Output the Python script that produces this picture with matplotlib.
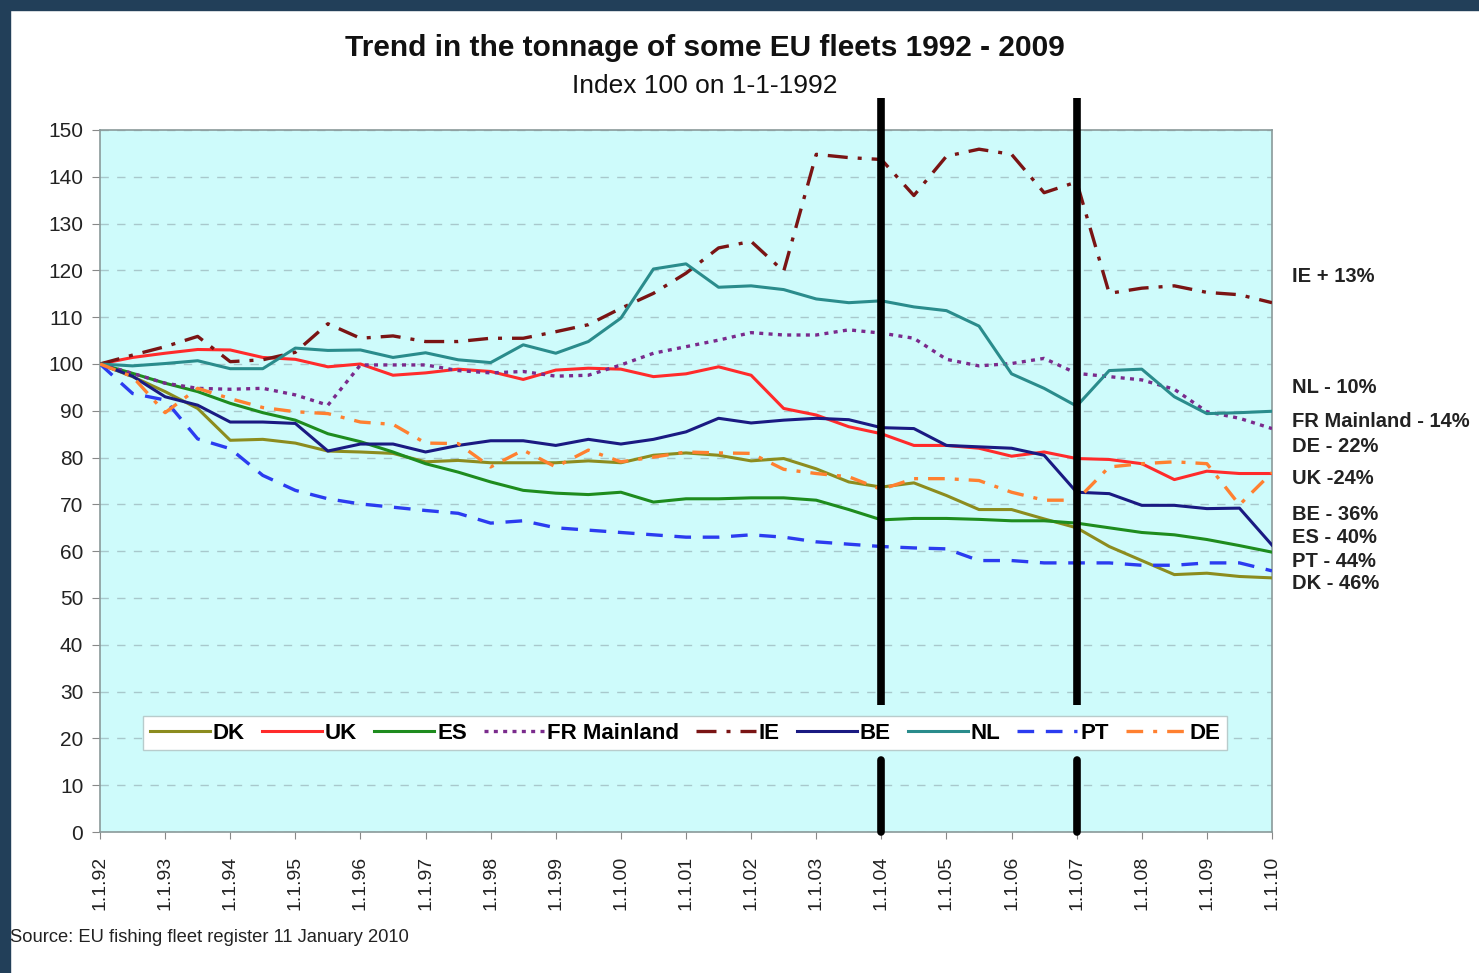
import numpy as np
import matplotlib
matplotlib.use("Agg")
import matplotlib.pyplot as plt
from matplotlib.patches import Rectangle

plt.rcParams['font.family'] = ['Liberation Sans', 'DejaVu Sans']

## half-year steps from 1.1.92 to 1.1.10
years = [1992 + 0.5 * i for i in range(37)]

DK = [100, 97.3, 94.1, 90.5, 83.7, 83.9, 83.1, 81.4, 81.2, 80.9, 79.1, 79.4, 78.9, 78.9, 78.9, 79.3,
      78.9, 80.5, 81.0, 80.5, 79.3, 79.8, 77.6, 74.8, 73.7, 74.6, 71.9, 68.9, 68.9, 66.9, 65.0, 61.0,
      58.0, 55.0, 55.3, 54.6, 54.3]
UK = [100, 101.4, 102.3, 103.1, 103.0, 101.4, 101.0, 99.4, 100.0, 97.6, 98.1, 98.9, 98.4, 96.7, 98.7,
      99.1, 98.9, 97.3, 97.9, 99.4, 97.6, 90.5, 89.1, 86.6, 85.1, 82.6, 82.6, 82.0, 80.3, 81.2, 79.8,
      79.6, 78.7, 75.3, 77.1, 76.6, 76.6]
ES = [100, 98.0, 95.9, 94.1, 91.6, 89.6, 88.0, 85.1, 83.4, 81.2, 78.7, 76.9, 74.8, 73.0, 72.4, 72.1,
      72.6, 70.5, 71.2, 71.2, 71.4, 71.4, 70.9, 68.9, 66.7, 67.0, 67.0, 66.8, 66.5, 66.5, 66.0, 65.0,
      64.0, 63.5, 62.5, 61.2, 59.8]
FR = [100, 98.0, 95.9, 94.8, 94.6, 94.8, 93.4, 91.2, 99.8, 99.8, 99.8, 98.6, 98.1, 98.4, 97.4, 97.6,
      99.8, 102.3, 103.7, 105.1, 106.7, 106.2, 106.2, 107.3, 106.6, 105.5, 101.0, 99.6, 100.1, 101.2,
      98.0, 97.3, 96.6, 94.6, 89.8, 88.4, 86.2]
IE = [100, 101.9, 103.7, 105.9, 100.5, 100.9, 102.5, 108.6, 105.5, 106.0, 104.8, 104.8, 105.5, 105.5,
      106.9, 108.4, 111.9, 115.1, 119.4, 124.8, 126.2, 119.8, 144.8, 144.1, 143.7, 136.0, 144.4, 145.9,
      144.8, 136.6, 138.9, 115.1, 116.2, 116.7, 115.3, 114.8, 113.1]
BE = [100, 97.4, 93.0, 91.2, 87.6, 87.6, 87.3, 81.4, 82.9, 82.9, 81.2, 82.6, 83.6, 83.6, 82.6, 83.9,
      82.9, 83.9, 85.5, 88.4, 87.4, 88.0, 88.4, 88.1, 86.4, 86.2, 82.6, 82.3, 82.0, 80.5, 72.6, 72.3,
      69.8, 69.8, 69.1, 69.2, 61.3]
NL = [100, 99.6, 100.1, 100.7, 99.0, 99.0, 103.4, 102.9, 103.0, 101.4, 102.4, 100.9, 100.3, 104.1,
      102.3, 104.8, 109.8, 120.3, 121.4, 116.4, 116.7, 115.9, 113.9, 113.1, 113.5, 112.2, 111.4, 108.1,
      97.9, 94.8, 91.0, 98.6, 98.9, 93.0, 89.4, 89.6, 89.9]
PT = [100, 93.7, 92.3, 84.0, 81.9, 76.2, 73.0, 71.2, 70.1, 69.4, 68.7, 68.1, 66.0, 66.5, 65.0, 64.5,
      64.0, 63.5, 63.0, 63.0, 63.5, 63.0, 62.0, 61.5, 61.0, 60.7, 60.5, 58.0, 58.0, 57.5, 57.5, 57.5,
      57.0, 57.0, 57.5, 57.5, 55.8]
DE = [100, 97.3, 89.6, 94.8, 92.6, 90.7, 89.8, 89.4, 87.6, 87.1, 83.1, 83.0, 78.0, 81.6, 78.0, 81.6,
      79.1, 80.1, 81.2, 81.0, 80.9, 77.5, 76.6, 75.9, 73.2, 75.5, 75.5, 75.1, 72.6, 70.9, 70.9, 78.0,
      78.7, 79.1, 78.7, 69.9, 76.8]

series_names = ["DK", "UK", "ES", "FR Mainland", "IE", "BE", "NL", "PT", "DE"]
series_vals = [DK, UK, ES, FR, IE, BE, NL, PT, DE]
colors = ["#8c8c1e", "#ff2b2b", "#1e8c1e", "#7a2a8c", "#7a1414", "#1a1a82", "#2a8c8c", "#2b3cf0", "#ff8030"]
dashes = [None, None, None, (1.2, 1.6), (6, 3, 1.2, 3), None, None, (5, 3.5), (5, 3, 1.2, 3)]

end_labels = ["IE + 13%", "NL - 10%", "FR Mainland - 14%", "DE - 22%", "UK -24%",
              "BE - 36%", "ES - 40%", "PT - 44%", "DK - 46%"]
end_label_y = [118.6, 94.9, 87.8, 82.3, 75.6, 67.9, 63.0, 57.7, 53.2]

marker_years = [2004, 2007]
tick_years = list(range(1992, 2011))
tick_labels = ["1.1.%02d" % (y % 100) for y in tick_years]

fig = plt.figure(figsize=[14.79, 9.73], dpi=100)
fig.patch.set_facecolor("white")
# dark frame top and left
fig.add_artist(Rectangle((0, 1 - 10 / 973), 1, 10 / 973, transform=fig.transFigure, color="#223f59", zorder=0))
fig.add_artist(Rectangle((0, 0), 10 / 1479, 1, transform=fig.transFigure, color="#223f59", zorder=0))

ax = fig.add_axes([100 / 1479, 1 - 832 / 973, 1172 / 1479, 702 / 973])
ax.set_facecolor("#cefbfb")

for name, vals, c, d in zip(series_names, series_vals, colors, dashes):
    if d is None:
        ax.plot(years, vals, color=c, lw=2.2, label=name, zorder=3)
    else:
        ax.plot(years, vals, color=c, lw=2.4, dashes=d, label=name, zorder=3)

ax.set_xlim(1992, 2010)
ax.set_ylim(0, 150)
ax.set_yticks(range(0, 151, 10))
ax.set_xticks(tick_years)
ax.set_xticklabels(tick_labels, rotation=90, fontsize=14, color="#222222")
ax.tick_params(axis="y", labelsize=15, colors="#222222", length=6, color="#888888", pad=6)
ax.tick_params(axis="x", length=5, color="#888888", pad=12)
ax.grid(axis="y", linestyle=(0, (6, 6)), color="#a8c8cc", lw=1)
for sp in ax.spines.values():
    sp.set_color("#8a9a9a")
    sp.set_linewidth(1.2)

# thick vertical lines (gap where the legend sits)
for yr in marker_years:
    ax.plot([yr, yr], [0, 15.3], color="black", lw=5.5, solid_capstyle="round", clip_on=False, zorder=4)
    ax.plot([yr, yr], [27.1, 156.8], color="black", lw=5.5, solid_capstyle="butt", clip_on=False, zorder=4)

leg = ax.legend(loc="center", bbox_to_anchor=(0.499, 0.141), ncol=9, frameon=True, fancybox=False,
                framealpha=1, edgecolor="#b8cccc", handlelength=2.7, handletextpad=0.15,
                columnspacing=0.75, borderpad=0.3, prop={"weight": "bold", "size": 16})
leg.set_zorder(6)

for lab, yv in zip(end_labels, end_label_y):
    ax.text(2010.3, yv, lab, fontsize=14.5, fontweight="bold", color="#222222",
            va="center", ha="left", clip_on=False)

fig.text(705 / 1479, 1 - 48 / 973, "Trend in the tonnage of some EU fleets 1992 - 2009",
         fontsize=21.5, fontweight="bold", ha="center", va="center", color="#111111")
fig.text(705 / 1479, 1 - 86 / 973, "Index 100 on 1-1-1992", fontsize=19, ha="center", va="center",
         color="#111111")
fig.text(10 / 1479, 1 - 938 / 973, "Source: EU fishing fleet register 11 January 2010", fontsize=13.2,
         ha="left", va="center", color="#222222")

fig.savefig("out.png", dpi=100)
